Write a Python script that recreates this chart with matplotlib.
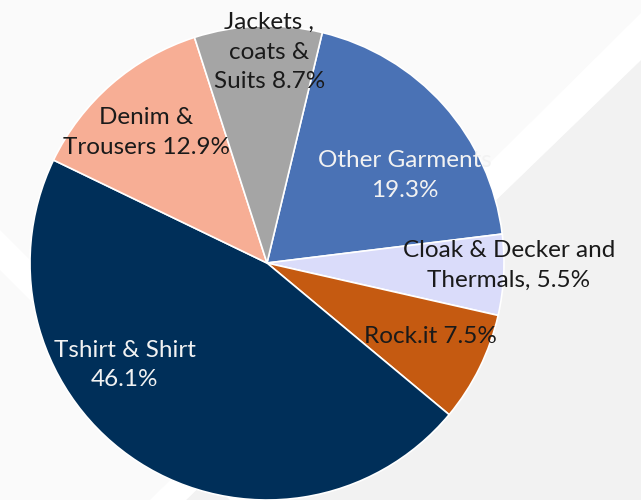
import numpy as np
import matplotlib
matplotlib.use('Agg')
import matplotlib.pyplot as plt
from matplotlib.patches import Polygon

# data
categories = ["Other Garments", "Cloak & Decker and\nThermals,", "Rock.it",
              "Tshirt & Shirt", "Denim &\nTrousers", "Jackets ,\ncoats &\nSuits"]
shares = [19.3, 5.5, 7.5, 46.1, 12.9, 8.7]
seps = ["\n", " ", " ", "\n", " ", " "]

colors = ["#4A72B5", "#DADCFA", "#C55A11", "#002F59", "#F7AE95", "#A5A5A5"]
text_colors = ["#F2F2F2", "#1A1A1A", "#1A1A1A", "#F2F2F2", "#1A1A1A", "#1A1A1A"]
# label centres in pie units (radius = 1)
label_xy = [(0.58, 0.37), (1.02, -0.01), (0.69, -0.31),
            (-0.60, -0.43), (-0.51, 0.55), (0.01, 0.89)]

W, H = 641, 500
fig = plt.figure(figsize=(W / 100, H / 100), dpi=100)
fig.patch.set_facecolor("#FAFAFA")


def px(pts):
    return [(x / W, 1 - y / H) for x, y in pts]


# background shapes
fig.add_artist(Polygon(px([(641, 60), (186, 500), (641, 500)]),
                       closed=True, fc="#F2F2F2", ec="none", transform=fig.transFigure, zorder=0))
fig.add_artist(Polygon(px([(641, 13), (150, 500), (186, 500), (641, 60)]),
                       closed=True, fc="white", ec="none", transform=fig.transFigure, zorder=0))
fig.add_artist(Polygon(px([(0, 230), (270, 500), (230, 500), (0, 270)]),
                       closed=True, fc="white", ec="none", transform=fig.transFigure, zorder=0))

cx, cy, r = 267, 263, 237
ax = fig.add_axes([(cx - r) / W, (H - cy - r) / H, 2 * r / W, 2 * r / H])
ax.set_facecolor("none")

wedges, _ = ax.pie(shares, colors=colors, startangle=76.5, counterclock=False,
                   wedgeprops=dict(edgecolor="white", linewidth=1.2))
ax.set_xlim(-1, 1)
ax.set_ylim(-1, 1)
ax.set_aspect("equal")
ax.axis("off")

for name, val, sep, tc, (x, y) in zip(categories, shares, seps, text_colors, label_xy):
    ax.text(x, y, f"{name}{sep}{val}%", ha="center", va="center", color=tc,
            fontsize=17.5, family=["Lato", "DejaVu Sans"], linespacing=1.5)

fig.savefig("out.png", dpi=100, facecolor=fig.get_facecolor())
